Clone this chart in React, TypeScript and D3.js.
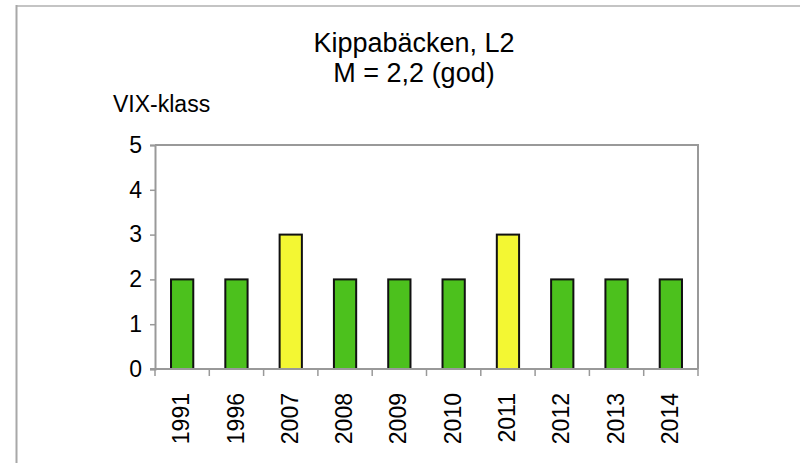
import React, { useEffect, useRef } from "react";
import * as d3 from "d3";

const years = ["1991", "1996", "2007", "2008", "2009", "2010", "2011", "2012", "2013", "2014"];
const vixClass = [2, 2, 3, 2, 2, 2, 3, 2, 2, 2];
const yTicks = [0, 1, 2, 3, 4, 5];
const titleLines = ["Kippabäcken, L2", "M = 2,2 (god)"];
const yLabel = "VIX-klass";

// fill per VIX class
const classColors: Record<number, string> = {
  2: "#4cc11d",
  3: "#f3f733",
};

const FONT = "'Liberation Sans', Arial, Helvetica, sans-serif";

const App = () => {
  const chartRef = useRef<HTMLDivElement>(null);

  useEffect(() => {
    const W = 800,
      H = 463;
    const margin = { top: 145, right: 102, bottom: 94, left: 155 };
    const width = W - margin.left - margin.right,
      height = H - margin.top - margin.bottom;

    d3.select(chartRef.current).selectAll("*").remove();

    const root = d3
      .select(chartRef.current)
      .append("svg")
      .attr("width", W)
      .attr("height", H)
      .style("display", "block")
      .style("font-family", FONT);

    root.append("rect").attr("width", W).attr("height", H).attr("fill", "#fff");

    // outer frame (top and left edges visible)
    root
      .append("line")
      .attr("x1", 16)
      .attr("x2", W)
      .attr("y1", 6)
      .attr("y2", 6)
      .attr("stroke", "#c4c4c4")
      .attr("stroke-width", 2);
    root
      .append("line")
      .attr("x1", 16.5)
      .attr("x2", 16.5)
      .attr("y1", 5)
      .attr("y2", H)
      .attr("stroke", "#a8a8a8")
      .attr("stroke-width", 2);

    // titles
    root
      .selectAll("text.title")
      .data(titleLines)
      .join("text")
      .attr("class", "title")
      .attr("x", 414)
      .attr("y", (d, i) => 52 + i * 30)
      .attr("text-anchor", "middle")
      .attr("font-size", 27)
      .attr("fill", "#000")
      .text((d) => d);

    root
      .append("text")
      .attr("x", 113)
      .attr("y", 112)
      .attr("font-size", 23)
      .attr("fill", "#000")
      .text(yLabel);

    const svg = root.append("g").attr("transform", `translate(${margin.left},${margin.top})`);

    const x = d3.scaleBand().domain(years).range([0, width]).paddingInner(0.59).paddingOuter(0.295);
    const y = d3.scaleLinear().domain([0, 5]).range([height, 0]);

    // plot frame top + right
    svg
      .append("path")
      .attr("d", `M0,0H${width}V${height}`)
      .attr("fill", "none")
      .attr("stroke", "#999")
      .attr("stroke-width", 2);

    // Y axis
    const yAxis = svg
      .append("g")
      .call(d3.axisLeft(y).tickValues(yTicks).tickSize(5).tickFormat(d3.format("d")));
    yAxis.select(".domain").attr("stroke", "#999").attr("stroke-width", 2);
    yAxis.selectAll(".tick line").attr("stroke", "#999").attr("stroke-width", 1.5);
    yAxis
      .selectAll(".tick text")
      .attr("font-size", 23)
      .attr("font-family", FONT)
      .attr("fill", "#000")
      .attr("x", -13);

    // bars
    svg
      .selectAll("rect.bar")
      .data(years)
      .join("rect")
      .attr("class", "bar")
      .attr("x", (d) => x(d)!)
      .attr("width", x.bandwidth())
      .attr("y", (d, i) => y(vixClass[i]))
      .attr("height", (d, i) => y(0) - y(vixClass[i]))
      .attr("fill", (d, i) => classColors[vixClass[i]])
      .attr("stroke", "#111")
      .attr("stroke-width", 2);

    // X axis: ticks on category boundaries
    const bounds = d3.range(years.length + 1).map((i) => i * (width / years.length));
    const xAxis = svg.append("g").attr("transform", `translate(0,${height})`);
    xAxis
      .append("line")
      .attr("x1", -5)
      .attr("x2", width)
      .attr("stroke", "#999")
      .attr("stroke-width", 2);
    xAxis
      .selectAll("line.tick")
      .data(bounds)
      .join("line")
      .attr("class", "tick")
      .attr("x1", (d) => d)
      .attr("x2", (d) => d)
      .attr("y1", 0)
      .attr("y2", 7)
      .attr("stroke", "#999")
      .attr("stroke-width", 1.5);
    xAxis
      .selectAll("text.lbl")
      .data(years)
      .join("text")
      .attr("class", "lbl")
      .attr(
        "transform",
        (d) => `translate(${x(d)! + x.bandwidth() / 2 - 1},${24}) rotate(-90)`
      )
      .attr("text-anchor", "end")
      .attr("dy", "0.35em")
      .attr("font-size", 23)
      .attr("fill", "#000")
      .text((d) => d);
  }, []);

  return <div ref={chartRef} style={{ position: "absolute", left: 0, top: 0 }}></div>;
};

export default App;
